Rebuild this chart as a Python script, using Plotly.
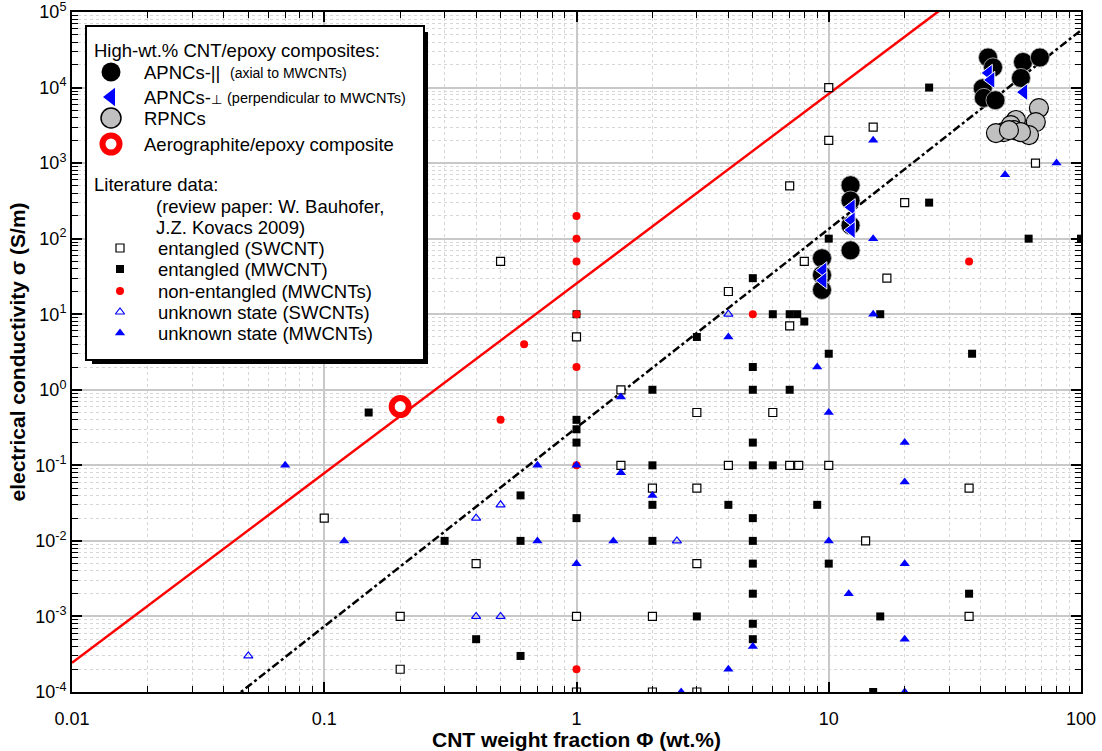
import plotly.graph_objects as go

# ---------------- literature data (review: W. Bauhofer, J.Z. Kovacs 2009) ----------------
ent_sw_phi = [0.1, 0.2, 0.2, 0.4, 0.5, 1, 1, 1, 1.5, 1.5, 2, 2, 2, 3, 3, 3, 3, 4, 4, 6,
              7, 7.6, 7, 7, 8, 10, 10, 10, 14, 15, 17, 20, 36, 36, 66]
ent_sw_sig = [0.02, 0.001, 2e-4, 0.005, 50, 5, 0.001, 1e-4, 1, 0.1, 0.05, 0.001, 1e-4, 0.5, 0.05, 0.005, 1e-4, 20, 0.1, 0.5,
              0.1, 0.1, 7, 500, 50, 1e4, 2000, 0.1, 0.01, 3000, 30, 300, 0.05, 0.001, 1000]

ent_mw_phi = [0.15, 0.3, 0.4, 0.6, 0.6, 0.6, 1, 1, 1, 1, 1, 2, 2, 2, 2, 3, 3, 4,
              5, 5, 5, 5, 5, 5, 5, 5, 5, 5, 5, 6, 6, 7, 7.5, 7, 8, 9, 10, 10, 10,
              15, 16, 16, 25, 25, 36, 37, 62, 100]
ent_mw_sig = [0.5, 0.01, 5e-4, 0.04, 0.01, 3e-4, 10, 0.4, 0.3, 0.2, 0.02, 1, 0.1, 0.03, 0.01, 5, 0.001, 0.03,
              30, 2, 1, 0.2, 0.1, 0.02, 0.01, 0.005, 0.002, 8e-4, 5e-4, 10, 0.1, 10, 10, 1, 8, 0.03, 100, 3, 0.005,
              1e-4, 10, 0.001, 1e4, 300, 0.002, 3, 100, 100]

nonent_mw_phi = [0.5, 0.62, 1, 1, 1, 1, 1, 1, 1, 5, 36]
nonent_mw_sig = [0.4, 4, 200, 100, 50, 10, 2, 0.1, 2e-4, 10, 50]

unk_sw_phi = [0.05, 0.4, 0.4, 0.5, 0.5, 2.5, 4]
unk_sw_sig = [3e-4, 0.02, 0.001, 0.03, 0.001, 0.01, 10]

unk_mw_phi = [0.07, 0.12, 0.7, 0.7, 1, 1, 1.4, 1.5, 1.5, 2, 2.6, 4, 4, 5, 9, 10, 10, 12,
              15, 15, 15, 20, 20, 20, 20, 20, 50, 80]
unk_mw_sig = [0.1, 0.01, 0.1, 0.01, 0.1, 0.005, 0.01, 0.8, 0.08, 0.04, 1e-4, 5, 2e-4, 4e-4, 2, 0.5, 0.01, 0.002,
              2000, 100, 10, 0.2, 0.06, 0.005, 5e-4, 1e-4, 700, 1000]

# ---------------- high-wt.% CNT/epoxy composites ----------------
apnc_par_phi = [9.4, 9.4, 9.4, 12.2, 12.2, 12.2, 12.2, 42.8, 44.8, 40.8, 41.2, 45.8, 58.9, 68.7, 57.8]
apnc_par_sig = [55, 33, 21, 510, 320, 150, 70, 25000, 18500, 9800, 7300, 6800, 21800, 25000, 13400]

apnc_perp_phi = [9.5, 9.5, 12.3, 12.3, 12.3, 43, 44, 59.4]
apnc_perp_sig = [38, 28, 260, 175, 130, 15600, 12600, 8700]

rpnc_phi = [68.1, 66.2, 62.2, 55.2, 52.7, 54.2, 49.4, 46.0, 57.8, 51.8]
rpnc_sig = [5350, 3490, 2350, 3720, 3190, 2730, 2570, 2500, 2570, 2730]

aero_phi = [0.2]
aero_sig = [0.6]

# power-law guide lines  sigma = sigma1 * phi**t
red_sigma1, red_t = 25.5, 2.51
blk_sigma1, blk_t = 0.315, 2.63
line_phi = [0.01, 100]

# ---------------- tick definitions ----------------
x_tickvals = [0.01, 0.1, 1, 10, 100]
x_ticktext = ["0.01", "0.1", "1", "10", "100"]
y_exponents = list(range(-4, 6))
y_tickvals = [10.0 ** k for k in y_exponents]
y_ticktext = ["10<sup>%d</sup>" % k for k in y_exponents]
x_minor = [m * 10.0 ** k for k in range(-2, 2) for m in range(2, 10)]
y_minor = [m * 10.0 ** k for k in range(-4, 5) for m in range(2, 10)]

FONT = "Liberation Sans, Arial, sans-serif"
W, H = 1102, 751
ML, MR, MT, MB = 72, 21, 12, 59
PW, PH = W - ML - MR, H - MT - MB


def px_x(px):
    return (px - ML) / PW


def px_y(py):
    return (H - MB - py) / PH


fig = go.Figure()

# guide lines
fig.add_trace(go.Scatter(x=line_phi, y=[red_sigma1 * p ** red_t for p in line_phi], mode="lines",
                         line=dict(color="#ff0000", width=2.5), hoverinfo="skip"))
fig.add_trace(go.Scatter(x=line_phi, y=[blk_sigma1 * p ** blk_t for p in line_phi], mode="lines",
                         line=dict(color="black", width=2.5, dash="8px,3px,3px,3px"), hoverinfo="skip"))

# literature markers
fig.add_trace(go.Scatter(x=ent_sw_phi, y=ent_sw_sig, mode="markers", name="entangled (SWCNT)",
                         marker=dict(symbol="square", size=8, color="white", line=dict(color="black", width=1.2))))
fig.add_trace(go.Scatter(x=ent_mw_phi, y=ent_mw_sig, mode="markers", name="entangled (MWCNT)",
                         marker=dict(symbol="square", size=8, color="black", line=dict(width=0))))
fig.add_trace(go.Scatter(x=nonent_mw_phi, y=nonent_mw_sig, mode="markers", name="non-entangled (MWCNTs)",
                         marker=dict(symbol="circle", size=8, color="#ff0000", line=dict(width=0))))
fig.add_trace(go.Scatter(x=unk_sw_phi, y=unk_sw_sig, mode="markers", name="unknown state (SWCNTs)",
                         marker=dict(symbol="triangle-up-open", size=8, color="#0000ff", line=dict(color="#0000ff", width=1.2))))
fig.add_trace(go.Scatter(x=unk_mw_phi, y=unk_mw_sig, mode="markers", name="unknown state (MWCNTs)",
                         marker=dict(symbol="triangle-up", size=9, color="#0000ff", line=dict(width=0))))

# composites
fig.add_trace(go.Scatter(x=apnc_par_phi, y=apnc_par_sig, mode="markers", name="APNCs-||",
                         marker=dict(symbol="circle", size=19, color="black", line=dict(color="#bbbbbb", width=0.8))))
fig.add_trace(go.Scatter(x=apnc_perp_phi, y=apnc_perp_sig, mode="markers", name="APNCs-perp",
                         marker=dict(symbol="triangle-left", size=15, color="#0000ff", line=dict(color="white", width=1))))
fig.add_trace(go.Scatter(x=rpnc_phi, y=rpnc_sig, mode="markers", name="RPNCs",
                         marker=dict(symbol="circle", size=19, color="#c0c0c0", line=dict(color="black", width=1.2))))
fig.add_trace(go.Scatter(x=aero_phi, y=aero_sig, mode="markers", name="Aerographite/epoxy composite",
                         marker=dict(symbol="circle", size=17, color="white", line=dict(color="#ff0000", width=6))))

# ---------------- key box (separate inset subplot, pixel-like units) ----------------
BX0, BY0, BX1, BY1 = 87, 27, 423, 359
BW, BH = BX1 - BX0, BY1 - BY0

key_rows = [
    dict(x=24, y=45, sym="circle", size=19, color="black", lc="black", lw=0),
    dict(x=24, y=70, sym="triangle-left", size=16, color="#0000ff", lc="#0000ff", lw=0),
    dict(x=24, y=91, sym="circle", size=20, color="#c0c0c0", lc="black", lw=1.5),
    dict(x=24, y=117, sym="circle", size=17, color="white", lc="#ff0000", lw=6),
    dict(x=33, y=221, sym="square", size=8, color="white", lc="black", lw=1.2),
    dict(x=33, y=242, sym="square", size=8, color="black", lc="black", lw=0),
    dict(x=33, y=264, sym="circle", size=8, color="#ff0000", lc="#ff0000", lw=0),
    dict(x=33, y=285, sym="triangle-up-open", size=8, color="#0000ff", lc="#0000ff", lw=1.2),
    dict(x=33, y=306, sym="triangle-up", size=9, color="#0000ff", lc="#0000ff", lw=0),
]
for r in key_rows:
    fig.add_trace(go.Scatter(x=[r["x"]], y=[r["y"]], mode="markers", xaxis="x2", yaxis="y2",
                             marker=dict(symbol=r["sym"], size=r["size"], color=r["color"],
                                         line=dict(color=r["lc"], width=r["lw"])), hoverinfo="skip"))

key_texts = [
    (5, 23, "High-wt.% CNT/epoxy composites:", 18.5),
    (55, 45, "APNCs-||", 18.5),
    (141, 46, "(axial to MWCNTs)", 14),
    (55, 70, "APNCs-<span style='font-size:13px'>\u22a5</span>", 18.5),
    (138, 71, "(perpendicular to MWCNTs)", 14.5),
    (55, 91, "RPNCs", 18.5),
    (55, 117, "Aerographite/epoxy composite", 18.5),
    (5, 157, "Literature data:", 18.5),
    (67, 179, "(review paper: W. Bauhofer,", 18.5),
    (67, 200, "J.Z. Kovacs 2009)", 18.5),
    (69, 221, "entangled (SWCNT)", 18.5),
    (69, 242, "entangled (MWCNT)", 18.5),
    (69, 264, "non-entangled (MWCNTs)", 18.5),
    (69, 285, "unknown state (SWCNTs)", 18.5),
    (69, 306, "unknown state (MWCNTs)", 18.5),
]
annotations = []
for tx, ty, txt, fs in key_texts:
    annotations.append(dict(x=tx, y=ty, xref="x2", yref="y2", text=txt, showarrow=False,
                            xanchor="left", yanchor="middle", font=dict(family=FONT, size=fs, color="black")))

# drop shadow of the key box
shapes = [
    dict(type="rect", xref="paper", yref="paper", layer="above", line=dict(width=0), fillcolor="black",
         x0=px_x(BX1), x1=px_x(BX1 + 5), y0=px_y(BY1 + 5), y1=px_y(BY0 + 5)),
    dict(type="rect", xref="paper", yref="paper", layer="above", line=dict(width=0), fillcolor="black",
         x0=px_x(BX0 + 5), x1=px_x(BX1 + 5), y0=px_y(BY1 + 5), y1=px_y(BY1)),
]

grid_major = "#c8c8c8"
grid_minor = "#d6d6d6"
axis_common = dict(
    type="log", showline=True, linecolor="black", linewidth=2, mirror="allticks",
    ticks="inside", ticklen=10, tickwidth=1.5, tickcolor="black",
    showgrid=True, gridcolor=grid_major, gridwidth=1.5, zeroline=False, automargin=False,
    ticklabeloverflow="allow",
    tickfont=dict(family=FONT, size=18, color="black"),
)

fig.update_layout(
    width=W, height=H,
    margin=dict(l=ML, r=MR, t=MT, b=MB, autoexpand=False),
    paper_bgcolor="white", plot_bgcolor="white",
    showlegend=False,
    font=dict(family=FONT, color="black"),
    xaxis=dict(
        axis_common, range=[-2, 2], tickmode="array", tickvals=x_tickvals, ticktext=x_ticktext,
        ticklabelstandoff=9,
        minor=dict(tickmode="array", tickvals=x_minor, ticks="inside", ticklen=6, tickwidth=1.2,
                   tickcolor="black", showgrid=True, gridcolor=grid_minor, gridwidth=1, griddash="dot"),
        title=dict(text="CNT weight fraction \u03a6 (wt.%)", standoff=0,
                   font=dict(family=FONT, size=21, weight="bold", color="black")),
    ),
    yaxis=dict(
        axis_common, range=[-4, 5], tickmode="array", tickvals=y_tickvals, ticktext=y_ticktext,
        minor=dict(tickmode="array", tickvals=y_minor, ticks="inside", ticklen=6, tickwidth=1.2,
                   tickcolor="black", showgrid=True, gridcolor=grid_minor, gridwidth=1, griddash="dot"),
        title=dict(text="electrical conductivity \u03c3 (S/m)", standoff=4,
                   font=dict(family=FONT, size=21, weight="bold", color="black")),
    ),
    xaxis2=dict(domain=[px_x(BX0), px_x(BX1)], range=[0, BW], anchor="y2", showgrid=False, zeroline=False,
                showticklabels=False, ticks="", showline=True, mirror=True, linecolor="black", linewidth=1.5,
                fixedrange=True, automargin=False),
    yaxis2=dict(domain=[px_y(BY1), px_y(BY0)], range=[BH, 0], anchor="x2", showgrid=False, zeroline=False,
                showticklabels=False, ticks="", showline=True, mirror=True, linecolor="black", linewidth=1.5,
                fixedrange=True, automargin=False),
    annotations=annotations,
    shapes=shapes,
)

fig.write_html("out.html")
